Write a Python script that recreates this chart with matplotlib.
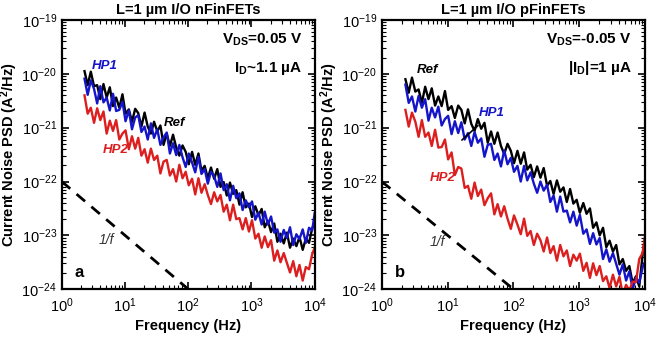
import numpy as np
import matplotlib
matplotlib.use('Agg')
import matplotlib.pyplot as plt
from matplotlib.ticker import FixedLocator, NullFormatter

plt.rcParams['font.family'] = ['Liberation Sans', 'DejaVu Sans']
plt.rcParams['mathtext.fontset'] = 'custom'
plt.rcParams['mathtext.rm'] = 'Liberation Sans'
plt.rcParams['mathtext.bf'] = 'Liberation Sans:bold'
plt.rcParams['mathtext.it'] = 'Liberation Sans:italic'

# Frequency grid (Hz), shared by all traces
freq = [2.29, 2.57, 2.88, 3.24, 3.63, 4.07, 4.57, 5.13, 5.75, 6.46, 7.24, 8.13, 9.12,
        10.2, 11.5, 12.9, 14.5, 16.2, 18.2, 20.4, 22.9, 25.7, 28.8, 32.4, 36.3, 40.7,
        45.7, 51.3, 57.5, 64.6, 72.4, 81.3, 91.2, 102, 115, 129, 145, 162, 182, 204,
        229, 257, 288, 324, 363, 407, 457, 513, 575, 646, 724, 813, 912, 1020, 1150,
        1290, 1450, 1620, 1820, 2040, 2290, 2570, 2880, 3240, 3630, 4070, 4570, 5130,
        5750, 6460, 7240, 8130, 9120, 10000]

# log10 of PSD (A^2/Hz), panel a (nFinFETs)
a_ref = [-19.95, -20.21, -19.96, -20.23, -20.21, -20.47, -20.19, -20.44, -20.25, -20.60,
         -20.44, -20.63, -20.38, -20.74, -20.66, -20.89, -20.65, -20.73, -20.98, -20.72,
         -20.98, -21.11, -20.89, -21.07, -20.96, -21.32, -21.11, -21.34, -21.13, -21.37,
         -21.52, -21.33, -21.45, -21.68, -21.45, -21.69, -21.48, -21.80, -21.71, -21.94,
         -21.74, -21.95, -21.77, -22.10, -22.01, -22.26, -22.02, -22.23, -22.16, -22.43,
         -22.20, -22.48, -22.41, -22.66, -22.46, -22.63, -22.51, -22.85, -22.73, -22.94,
         -22.78, -23.12, -22.97, -23.15, -22.95, -23.23, -23.06, -23.20, -23.03, -23.27,
         -23.06, -23.14, -22.87, -22.77]
a_hp1 = [-20.09, -20.39, -20.12, -20.28, -20.55, -20.23, -20.53, -20.44, -20.68, -20.37,
         -20.69, -20.67, -20.52, -20.88, -20.68, -21.03, -20.81, -20.77, -21.08, -20.98,
         -21.22, -20.92, -21.19, -21.03, -21.32, -21.18, -21.09, -21.48, -21.29, -21.51,
         -21.32, -21.55, -21.73, -21.48, -21.65, -21.83, -21.54, -21.86, -21.77, -22.04,
         -21.82, -21.90, -22.10, -21.85, -22.16, -22.05, -22.35, -22.08, -22.31, -22.22,
         -22.53, -22.35, -22.48, -22.37, -22.71, -22.58, -22.80, -22.56, -22.80, -22.65,
         -22.95, -22.89, -23.12, -22.90, -23.05, -22.85, -23.18, -22.98, -23.07, -22.89,
         -23.14, -22.86, -22.91, -22.59]
a_hp2 = [-20.40, -20.74, -20.63, -20.91, -20.64, -20.86, -20.70, -21.11, -20.87, -21.06,
         -20.86, -21.22, -21.11, -21.05, -21.40, -21.16, -21.39, -21.19, -21.52, -21.40,
         -21.65, -21.39, -21.60, -21.52, -21.85, -21.63, -21.60, -21.89, -21.77, -22.00,
         -21.69, -21.94, -21.82, -22.07, -21.95, -22.24, -21.94, -22.21, -22.05, -22.25,
         -22.42, -22.20, -22.37, -22.25, -22.56, -22.43, -22.72, -22.43, -22.70, -22.68,
         -22.89, -22.68, -22.93, -22.72, -23.06, -22.97, -23.23, -23.02, -23.22, -23.09,
         -23.47, -23.28, -23.50, -23.33, -23.51, -23.69, -23.48, -23.76, -23.55, -23.84,
         -23.59, -23.63, -23.35, -23.23]

# log10 of PSD (A^2/Hz), panel b (pFinFETs)
b_ref = [-20.10, -20.35, -20.07, -20.33, -20.29, -20.54, -20.24, -20.47, -20.27, -20.59,
         -20.42, -20.60, -20.32, -20.67, -20.60, -20.82, -20.59, -20.67, -20.92, -20.66,
         -20.93, -21.06, -20.84, -21.02, -20.91, -21.28, -21.07, -21.30, -21.09, -21.34,
         -21.49, -21.30, -21.43, -21.66, -21.43, -21.67, -21.46, -21.78, -21.69, -21.92,
         -21.72, -21.93, -21.75, -22.08, -21.99, -22.23, -21.98, -22.19, -22.11, -22.38,
         -22.14, -22.41, -22.34, -22.58, -22.40, -22.60, -22.50, -22.86, -22.76, -23.00,
         -22.86, -23.22, -23.10, -23.30, -23.18, -23.54, -23.44, -23.66, -23.57, -23.89,
         -23.76, -23.95, -23.37, -23.02]
b_hp1 = [-20.20, -20.54, -20.42, -20.70, -20.41, -20.63, -20.47, -20.87, -20.63, -20.81,
         -20.61, -20.96, -20.84, -20.78, -21.12, -20.88, -21.10, -20.90, -21.22, -21.10,
         -21.34, -21.08, -21.28, -21.20, -21.54, -21.32, -21.30, -21.60, -21.48, -21.72,
         -21.42, -21.68, -21.56, -21.82, -21.71, -22.00, -21.71, -21.98, -21.83, -22.04,
         -22.21, -22.00, -22.17, -22.06, -22.38, -22.26, -22.56, -22.28, -22.56, -22.54,
         -22.76, -22.56, -22.82, -22.62, -22.97, -22.89, -23.16, -22.96, -23.17, -23.05,
         -23.44, -23.26, -23.49, -23.33, -23.53, -23.73, -23.54, -23.84, -23.67, -24.00,
         -23.79, -23.88, -23.60, -23.48]
b_hp2 = [-20.67, -20.98, -20.72, -20.89, -21.17, -20.86, -21.17, -21.09, -21.34, -21.04,
         -21.37, -21.36, -21.22, -21.59, -21.46, -21.88, -21.73, -21.76, -22.12, -22.08,
         -22.32, -22.02, -22.27, -22.15, -22.44, -22.31, -22.22, -22.61, -22.42, -22.65,
         -22.46, -22.69, -22.88, -22.63, -22.80, -22.98, -22.69, -23.01, -22.92, -23.18,
         -22.97, -23.09, -23.30, -23.04, -23.33, -23.20, -23.47, -23.18, -23.39, -23.28,
         -23.57, -23.36, -23.47, -23.34, -23.66, -23.51, -23.79, -23.52, -23.74, -23.57,
         -23.85, -23.76, -23.98, -23.73, -23.95, -23.77, -24.10, -23.92, -24.02, -23.86,
         -23.87, -23.44, -23.33, -23.01]

# 1/f guide line
guide_f = [1, 100]
guide_psd = [1e-22, 1e-24]

# axis decades
x_decades = [1, 10, 100, 1000, 10000]
y_decades = [1e-24, 1e-23, 1e-22, 1e-21, 1e-20, 1e-19]

BLACK = '#000000'
BLUE = '#1414c8'
RED = '#dc1e1e'
LW = 1.7


def minor_ticks(decades):
    out = []
    for d in decades[:-1]:
        out += [d * k for k in range(2, 10)]
    return out


def style_axes(ax, letter):
    ax.set_xscale('log')
    ax.set_yscale('log')
    ax.set_xlim(1, 1e4)
    ax.set_ylim(1e-24, 1e-19)
    ax.set_xticks(x_decades)
    ax.set_yticks(y_decades)
    ax.xaxis.set_minor_locator(FixedLocator(minor_ticks(x_decades)))
    ax.yaxis.set_minor_locator(FixedLocator(minor_ticks(y_decades)))
    ax.xaxis.set_minor_formatter(NullFormatter())
    ax.yaxis.set_minor_formatter(NullFormatter())
    ax.tick_params(which='both', direction='in', top=True, right=True, labelsize=10.5)
    ax.tick_params(which='major', length=5, width=1.2)
    ax.tick_params(which='minor', length=3, width=0.8)
    ax.tick_params(axis='x', pad=5)
    for s in ax.spines.values():
        s.set_linewidth(1.6)
    ax.set_xlabel('Frequency (Hz)', fontsize=10.5, fontweight='bold', labelpad=3)
    ax.set_ylabel('Current Noise PSD (A$^\\mathbf{2}$/Hz)', fontsize=10.5,
                  fontweight='bold', labelpad=1)
    ax.text(0.05, 0.035, letter, transform=ax.transAxes, fontsize=12,
            fontweight='bold', ha='left', va='bottom')


def to_psd(vals):
    return [10 ** v for v in vals]


fig = plt.figure(figsize=(6.57, 3.39), dpi=100)
ax1 = fig.add_axes([0.094, 0.147, 0.385, 0.794])
ax2 = fig.add_axes([0.581, 0.147, 0.401, 0.794])

# panel a
ax1.plot(freq, to_psd(a_ref), color=BLACK, lw=LW)
ax1.plot(freq, to_psd(a_hp1), color=BLUE, lw=LW)
ax1.plot(freq, to_psd(a_hp2), color=RED, lw=LW)
ax1.plot(guide_f, guide_psd, color='black', lw=2, ls=(0, (4, 3)))
style_axes(ax1, 'a')
ax1.set_title('L=1 µm I/O nFinFETs', fontsize=10.5, fontweight='bold', pad=4)
ax1.text(4.8, 10 ** -19.86, 'HP1', color=BLUE, fontsize=9.5, fontweight='bold',
         fontstyle='italic', ha='center', va='center')
ax1.text(61, 10 ** -20.92, 'Ref', color=BLACK, fontsize=9.5, fontweight='bold',
         fontstyle='italic', ha='center', va='center')
ax1.text(7.1, 10 ** -21.42, 'HP2', color=RED, fontsize=9.5, fontweight='bold',
         fontstyle='italic', ha='center', va='center')
ax1.text(5.0, 10 ** -23.09, '1/f', color='#333333', fontsize=10,
         fontstyle='italic', ha='center', va='center')
ax1.text(0.95, 0.925, 'V$_{\\mathbf{DS}}$=0.05 V', transform=ax1.transAxes,
         fontsize=11, fontweight='bold', ha='right', va='center')
ax1.text(0.95, 0.82, 'I$_{\\mathbf{D}}$~1.1 µA', transform=ax1.transAxes,
         fontsize=11, fontweight='bold', ha='right', va='center')

# panel b
ax2.plot(freq, to_psd(b_ref), color=BLACK, lw=LW)
ax2.plot(freq, to_psd(b_hp1), color=BLUE, lw=LW)
ax2.plot(freq, to_psd(b_hp2), color=RED, lw=LW)
ax2.plot(guide_f, guide_psd, color='black', lw=2, ls=(0, (4, 3)))
style_axes(ax2, 'b')
ax2.set_title('L=1 µm I/O pFinFETs', fontsize=10.5, fontweight='bold', pad=4)
ax2.text(5.0, 10 ** -19.93, 'Ref', color=BLACK, fontsize=9.5, fontweight='bold',
         fontstyle='italic', ha='center', va='center')
ax2.annotate('HP1', xy=(16.5, 10 ** -21.23), xytext=(47, 10 ** -20.73),
             color=BLUE, fontsize=9.5, fontweight='bold', fontstyle='italic',
             ha='center', va='center',
             arrowprops=dict(arrowstyle='-', color='black', lw=1.2, shrinkA=4, shrinkB=0))
ax2.text(8.5, 10 ** -21.94, 'HP2', color=RED, fontsize=9.5, fontweight='bold',
         fontstyle='italic', ha='center', va='center')
ax2.text(7.1, 10 ** -23.13, '1/f', color='#333333', fontsize=10,
         fontstyle='italic', ha='center', va='center')
ax2.text(0.95, 0.925, 'V$_{\\mathbf{DS}}$=-0.05 V', transform=ax2.transAxes,
         fontsize=11, fontweight='bold', ha='right', va='center')
ax2.text(0.95, 0.82, '|I$_{\\mathbf{D}}$|=1 µA', transform=ax2.transAxes,
         fontsize=11, fontweight='bold', ha='right', va='center')

fig.savefig('out.png', dpi=100)
